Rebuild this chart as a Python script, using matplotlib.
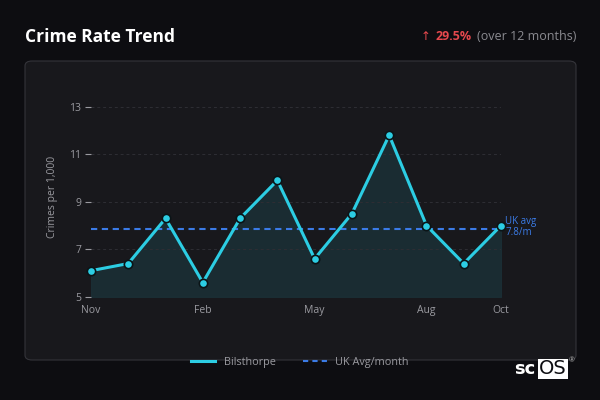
import numpy as np
import matplotlib
matplotlib.use("Agg")
import matplotlib.pyplot as plt
from matplotlib.patches import FancyBboxPatch
from matplotlib.lines import Line2D
from matplotlib.offsetbox import TextArea, HPacker, AnchoredOffsetbox

plt.rcParams['font.family'] = ['Open Sans', 'DejaVu Sans']

# data
months = ['Nov', 'Dec', 'Jan', 'Feb', 'Mar', 'Apr', 'May', 'Jun', 'Jul', 'Aug', 'Sep', 'Oct']
rate = [6.1, 6.4, 8.3, 5.6, 8.3, 9.9, 6.6, 8.5, 11.8, 8.0, 6.4, 8.0]
uk_avg = 7.85
shown_ticks = ['Nov', 'Feb', 'May', 'Aug', 'Oct']
y_ticks = [5, 7, 9, 11, 13]

bg = '#0d0d11'
panel = '#18181c'
cyan = '#2ccde3'
blue = '#3b7be6'
grey = '#9a9aa0'

fig = plt.figure(figsize=(6, 4), dpi=100, facecolor=bg)

# panel card behind everything
card = FancyBboxPatch((25 / 600, 1 - 360 / 400), 551 / 600, 299 / 400,
                      boxstyle='round,pad=0,rounding_size=0.012',
                      transform=fig.transFigure, facecolor=panel,
                      edgecolor='#34343a', linewidth=0.8, zorder=-10)
fig.patches.append(card)

fig.text(25 / 600, 1 - 37 / 400, 'Crime Rate Trend', color='white',
         fontsize=12.5, fontweight='bold', va='center', ha='left')

# change badge at top right
parts = HPacker(children=[
    TextArea('\u2191', textprops=dict(color='#e5484d', fontsize=8.5, family=['DejaVu Sans'])),
    TextArea('29.5%', textprops=dict(color='#e5484d', fontsize=9, fontweight='bold')),
    TextArea('(over 12 months)', textprops=dict(color='#8a8a90', fontsize=9)),
], align='baseline', pad=0, sep=3.5)
badge = AnchoredOffsetbox(loc='center right', child=parts, pad=0, frameon=False,
                          bbox_to_anchor=(576 / 600, 1 - 37 / 400),
                          bbox_transform=fig.transFigure, borderpad=0)
fig.add_artist(badge)

ax = fig.add_axes([91 / 600, 0.258, 410 / 600, 0.499])
ax.set_facecolor('none')
x = np.arange(len(months))

ax.fill_between(x, rate, 5, color='#1b3037', alpha=0.85, zorder=1)
ax.axhline(uk_avg, color=blue, linestyle=(0, (3, 2.2)), linewidth=1.5, zorder=2)
ax.plot(x, rate, color=cyan, linewidth=2.2, zorder=3, clip_on=False,
        marker='o', markersize=6, markerfacecolor=cyan,
        markeredgecolor='#0b1417', markeredgewidth=1.2)
ax.text(x[-1] + 0.12, uk_avg + 0.1, 'UK avg\n7.8/m', color=blue,
        fontsize=7, va='center', ha='left', linespacing=1.0)

ax.set_xlim(0, len(months) - 1)
ax.set_ylim(5, 13.4)
ax.set_yticks(y_ticks)
ax.set_xticks([months.index(m) for m in shown_ticks])
ax.set_xticklabels(shown_ticks)
ax.tick_params(axis='y', colors=grey, labelsize=7.5, length=4, width=0.8, pad=3)
ax.tick_params(axis='x', colors=grey, labelsize=7.5, length=0, pad=6)
ax.grid(axis='y', color='#2e2e34', linestyle=(0, (3, 3)), linewidth=0.7)
for s in ax.spines.values():
    s.set_visible(False)
ax.set_ylabel('Crimes per 1,000', color=grey, fontsize=7.5, labelpad=8)

handles = [Line2D([], [], color=cyan, linewidth=2.2),
           Line2D([], [], color=blue, linewidth=1.5, linestyle=(0, (2.5, 2)))]
fig.legend(handles, ['Bilsthorpe', 'UK Avg/month'], loc='center',
           bbox_to_anchor=(300 / 600, 1 - 362 / 400), ncol=2, frameon=False,
           fontsize=7.8, labelcolor=grey, handlelength=2.2, columnspacing=2.5,
           handletextpad=0.8)

# scOS logo
fig.text(535 / 600, 1 - 369 / 400, 'sc', color='white', fontsize=13,
         fontweight='bold', ha='right', va='center', family=['DejaVu Sans'])
fig.text(553 / 600, 1 - 369 / 400, 'OS', color='#0d0d11', fontsize=14,
         ha='center', va='center', family=['DejaVu Sans'],
         bbox=dict(boxstyle='square,pad=0.04', facecolor='white', edgecolor='none'))
fig.text(572 / 600, 1 - 361 / 400, '\u00ae', color='#aaaaaa', fontsize=5,
         ha='center', va='center')

fig.savefig('out.png', dpi=100, facecolor=bg)
